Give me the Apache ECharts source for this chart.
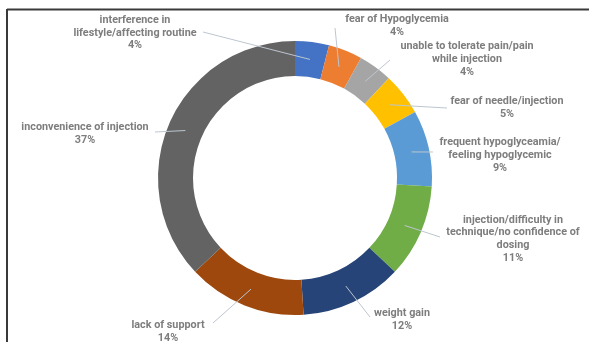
<!DOCTYPE html>
<html>
<head>
<meta charset="utf-8">
<script src="https://cdn.jsdelivr.net/npm/echarts@6/dist/echarts.min.js"></script>
<style>html,body{margin:0;padding:0;background:#fff;}#c{width:589px;height:342px;}</style>
</head>
<body>
<div id="c"></div>
<script>
const categories = [
  "interference in\nlifestyle/affecting routine",
  "fear of Hypoglycemia",
  "unable to tolerate pain/pain\nwhile injection",
  "fear of needle/injection",
  "frequent hypoglyceamia/\nfeeling hypoglycemic",
  "injection/difficulty in\ntechnique/no confidence of\ndosing",
  "weight gain",
  "lack of support",
  "inconvenience of injection"
];
const values = [4, 4, 4, 5, 9, 11, 12, 14, 37];
const colors = ["#4472C4", "#ED7D31", "#A5A5A5", "#FFC000", "#5B9BD5", "#70AD47", "#264478", "#9E480E", "#636363"];
// label block centre [x, y] and leader-line end [x, y]
const labelPos = [
  [135, 33, 203, 32],
  [397, 25.5, 335, 28],
  [467, 59.5, 390, 60],
  [507, 108, 447, 108],
  [500, 155.5, 433, 152],
  [513, 239, 440, 237],
  [402, 319.5, 370, 317],
  [168, 331.5, 213, 323],
  [85, 133.5, 155, 132]
];
const CX = 295, CY = 178, R0 = 102, R1 = 137;
const total = values.reduce((a, b) => a + b, 0);
function midPoint(i) {
  let cum = 0;
  for (let k = 0; k < i; k++) cum += values[k];
  const a = (cum + values[i] / 2) / total * 2 * Math.PI;
  const r = (R0 + R1) / 2;
  return [CX + r * Math.sin(a), CY - r * Math.cos(a)];
}
const chart = echarts.init(document.getElementById('c'), null, {renderer: 'canvas'});
chart.setOption({
  animation: false,
  graphic: [
    {type: 'line', shape: {x1: 7, y1: 9.5, x2: 589, y2: 9.5}, style: {stroke: '#3a3a3a', lineWidth: 2}},
    {type: 'line', shape: {x1: 7, y1: 9, x2: 7, y2: 342}, style: {stroke: '#3a3a3a', lineWidth: 2}}
  ],
  series: [{
    type: 'pie',
    z: 2,
    center: [CX, CY],
    radius: [R0, R1],
    startAngle: 90,
    clockwise: true,
    label: {show: false},
    labelLine: {show: false},
    itemStyle: {borderWidth: 0},
    emphasis: {disabled: true},
    data: categories.map((c, i) => ({name: c, value: values[i], itemStyle: {color: colors[i]}}))
  }, {
    type: 'pie',
    z: 5,
    silent: true,
    center: [CX, CY],
    radius: [R0, R1],
    startAngle: 90,
    clockwise: true,
    avoidLabelOverlap: false,
    label: {
      show: true,
      position: 'outside',
      formatter: p => p.name + '\n' + p.value + '%',
      fontFamily: 'Roboto',
      fontWeight: 'bold',
      fontSize: 10.8,
      lineHeight: 12.7,
      color: '#7d7d7d',
      align: 'center'
    },
    labelLine: {show: true, lineStyle: {color: '#bcc6d0', width: 1}},
    labelLayout: function (params) {
      const i = params.dataIndex;
      const p = labelPos[i];
      const s = midPoint(i);
      return {
        x: p[0], y: p[1], align: 'center', verticalAlign: 'middle',
        labelLinePoints: [s, [p[2], p[3]], [p[2], p[3]]]
      };
    },
    itemStyle: {color: 'rgba(0,0,0,0)', borderWidth: 0},
    emphasis: {disabled: true},
    data: categories.map((c, i) => ({name: c, value: values[i]}))
  }]
});
</script>
</body>
</html>
